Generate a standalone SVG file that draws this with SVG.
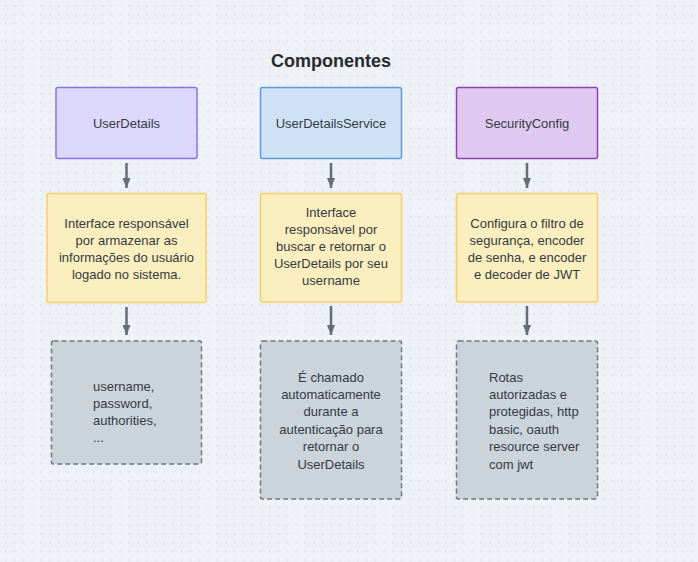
<svg xmlns="http://www.w3.org/2000/svg" width="698" height="562" viewBox="0 0 698 562">
<defs>
<pattern id="dots" x="5" y="5" width="8.8" height="8.8" patternUnits="userSpaceOnUse">
<rect x="0" y="0" width="1.4" height="1.4" fill="#d6dadf"/>
</pattern>
<marker id="ah" viewBox="0 0 10 8" refX="10" refY="4" markerWidth="10" markerHeight="8" markerUnits="userSpaceOnUse" orient="auto">
<path d="M0,0 L10,4 L0,8 Z" fill="#646d77"/>
</marker>
<style>
.t{font-family:"Liberation Sans",Arial,sans-serif;font-size:13px;fill:#353b43;}
.c{text-anchor:middle;}
.title{font-family:"Liberation Sans",Arial,sans-serif;font-size:18px;font-weight:bold;fill:#262b31;text-anchor:middle;}
.hdr{stroke-width:1.5;}
.y{fill:#fbefbf;stroke:#f3d06a;stroke-width:1.5;}
.g{fill:#cbd3db;stroke:#6f7882;stroke-width:1.5;stroke-dasharray:5 3;}
.arr{stroke:#646d77;stroke-width:2.5;fill:none;}
</style>
</defs>
<rect width="698" height="562" fill="#eef1f5"/>
<rect width="698" height="562" fill="url(#dots)"/>
<text class="title" x="331" y="67">Componentes</text>

<g id="userdetails">
<rect class="hdr" x="56" y="87.5" width="141" height="71" rx="2" fill="#dcd8fb" stroke="#8a73e0"/>
<text class="t c" x="126.5" y="128">UserDetails</text>
</g>
<g id="userdetailsservice">
<rect class="hdr" x="260.5" y="87.5" width="141" height="71" rx="2" fill="#cfe2f5" stroke="#5e9dd8"/>
<text class="t c" x="331" y="128">UserDetailsService</text>
</g>
<g id="securityconfig">
<rect class="hdr" x="456.5" y="87.5" width="141" height="71" rx="2" fill="#e0c9f1" stroke="#8d45ad"/>
<text class="t c" x="527" y="128">SecurityConfig</text>
</g>

<g id="desc-userdetails">
<rect class="y" x="47" y="193.5" width="159" height="109" rx="2"/>
<text class="t c" x="126.5" y="227.5">Interface responsável</text>
<text class="t c" x="126.5" y="244.5">por armazenar as</text>
<text class="t c" x="126.5" y="261.5">informações do usuário</text>
<text class="t c" x="126.5" y="278.5">logado no sistema.</text>
</g>
<g id="desc-userdetailsservice">
<rect class="y" x="260.5" y="193.5" width="141" height="108.5" rx="2"/>
<text class="t c" x="331" y="216.5">Interface</text>
<text class="t c" x="331" y="233.5">responsável por</text>
<text class="t c" x="331" y="250.5">buscar e retornar o</text>
<text class="t c" x="331" y="267.5">UserDetails por seu</text>
<text class="t c" x="331" y="284.5">username</text>
</g>
<g id="desc-securityconfig">
<rect class="y" x="456.5" y="193.5" width="141" height="108.5" rx="2"/>
<text class="t c" x="527" y="227.5">Configura o filtro de</text>
<text class="t c" x="527" y="244.5">segurança, encoder</text>
<text class="t c" x="527" y="261.5">de senha, e encoder</text>
<text class="t c" x="527" y="278.5">e decoder de JWT</text>
</g>

<g id="note-userdetails">
<rect class="g" x="51.5" y="341" width="150" height="123" rx="2"/>
<text class="t" x="93" y="390.5">username,</text>
<text class="t" x="93" y="407.5">password,</text>
<text class="t" x="93" y="424.5">authorities,</text>
<text class="t" x="93" y="442">...</text>
</g>
<g id="note-userdetailsservice">
<rect class="g" x="260.5" y="341" width="141" height="158" rx="2"/>
<text class="t c" x="331" y="381.5">É chamado</text>
<text class="t c" x="331" y="398.5">automaticamente</text>
<text class="t c" x="331" y="415.5">durante a</text>
<text class="t c" x="331" y="433.5">autenticação para</text>
<text class="t c" x="331" y="450.5">retornar o</text>
<text class="t c" x="331" y="468.5">UserDetails</text>
</g>
<g id="note-securityconfig">
<rect class="g" x="456.5" y="341" width="141" height="158" rx="2"/>
<text class="t" x="489" y="381.5">Rotas</text>
<text class="t" x="489" y="398.5">autorizadas e</text>
<text class="t" x="489" y="415.5">protegidas, http</text>
<text class="t" x="489" y="433.5">basic, oauth</text>
<text class="t" x="489" y="450.5">resource server</text>
<text class="t" x="489" y="468.5">com jwt</text>
</g>

<g id="connectors">
<line class="arr" x1="126.5" y1="163" x2="126.5" y2="188" marker-end="url(#ah)"/>
<line class="arr" x1="331" y1="163" x2="331" y2="188" marker-end="url(#ah)"/>
<line class="arr" x1="527" y1="163" x2="527" y2="188" marker-end="url(#ah)"/>
<line class="arr" x1="126.5" y1="307" x2="126.5" y2="335" marker-end="url(#ah)"/>
<line class="arr" x1="331" y1="306" x2="331" y2="335" marker-end="url(#ah)"/>
<line class="arr" x1="527" y1="306" x2="527" y2="335" marker-end="url(#ah)"/>
</g>
</svg>
